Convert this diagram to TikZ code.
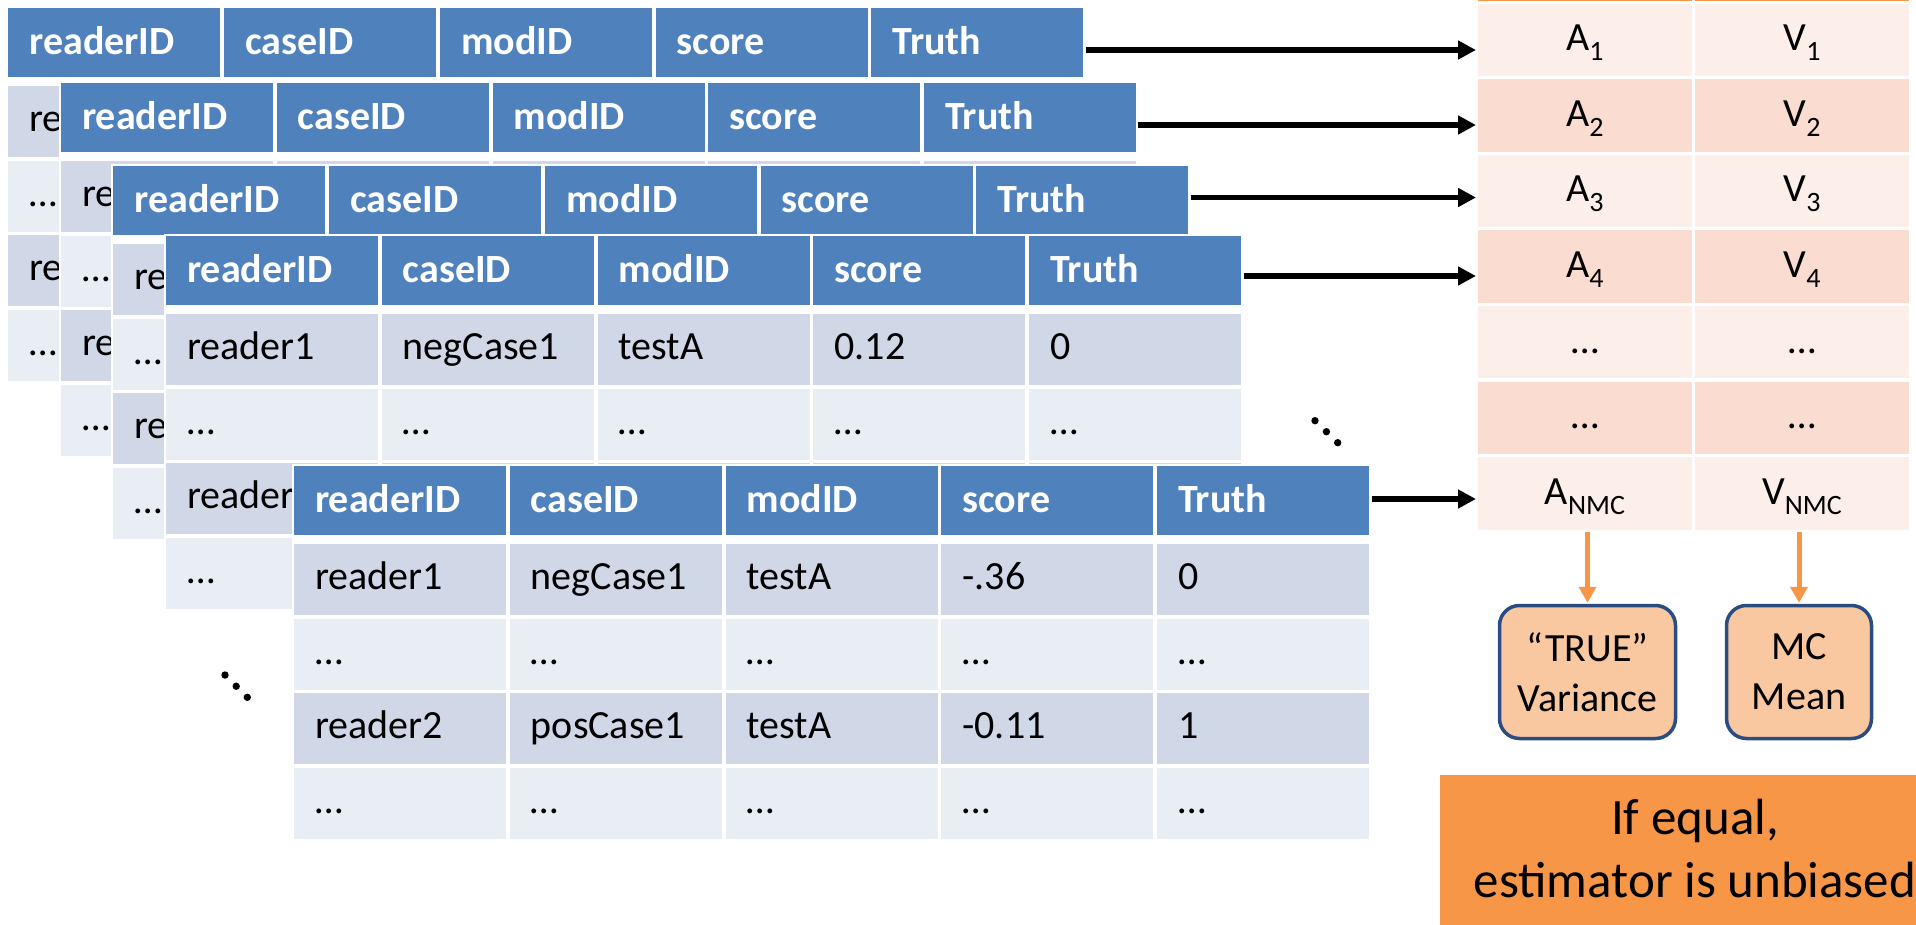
\documentclass[tikz,border=0pt]{standalone}
\usepackage{fontspec}
\setmainfont{Carlito}
\usetikzlibrary{arrows.meta}
\definecolor{hdrblue}{HTML}{4F81BD}
\definecolor{rowdark}{HTML}{D0D8E8}
\definecolor{rowlight}{HTML}{E9EDF4}
\definecolor{orng}{HTML}{F79646}
\definecolor{pklight}{HTML}{FCEEE9}
\definecolor{pkdark}{HTML}{FADCD0}
\definecolor{peach}{HTML}{FAC8A0}
\definecolor{boxblue}{HTML}{294D80}

\newcommand{\mytbl}[3]{% x0, y0, name
  \fill[white] (#1-2,#2-2) rectangle (#1+1077,#2+375.5);
  \foreach \hd [count=\i from 0] in {readerID,caseID,modID,score,Truth}{
    \node[cellbox, fill=hdrblue, minimum height=69] (#3h\i) at (#1+\i*215.75, #2) {};
    \node[hdrtxt] (#3ht\i) at (#1+\i*215.75+21, #2+46.5) {\hd};
  }
  \foreach \r in {0,1,2,3}{
    \ifodd\r\def\rc{rowlight}\else\def\rc{rowdark}\fi
    \foreach \i in {0,1,2,3,4}{
      \node[cellbox, fill=\rc] (#3r\r c\i) at (#1+\i*215.75, #2+78+\r*74.5) {};
    }
  }
}
\newcommand{\dtxt}[6]{\node[datatxt] (#1) at (#2+#4*215.75+21, #3+123.5+#5*74.5) {#6};}
\newcommand{\sub}[1]{\lower10pt\hbox{\fontsize{28}{28}\selectfont #1}}

\begin{document}
\begin{tikzpicture}[x=1pt,y=-1pt,
  cellbox/.style={anchor=north west, inner sep=0pt, outer sep=0pt, minimum width=212, minimum height=71},
  hdrtxt/.style={anchor=base west, inner sep=0pt, text=white, font=\fontsize{40}{48}\selectfont\bfseries},
  datatxt/.style={anchor=base west, inner sep=0pt, font=\fontsize{40}{48}\selectfont},
  rcell/.style={anchor=north west, inner sep=0pt, outer sep=0pt, minimum width=214, minimum height=72.5},
  rtxt/.style={anchor=base, inner sep=0pt, font=\fontsize{40}{48}\selectfont},
  blkarrow/.style={line width=5.5pt, draw=black, -{Triangle[length=18pt,width=18pt]}},
  oarrow/.style={line width=5pt, draw=orng, -{Triangle[length=16pt,width=17pt]}},
  rbox/.style={draw=boxblue, line width=3.5pt, fill=peach, rounded corners=20pt, inner sep=0pt,
    minimum height=133, align=center, font=\fontsize{40}{50}\selectfont},
  concltxt/.style={align=center, inner sep=0pt, font=\fontsize{51}{63}\selectfont}
]
\useasboundingbox (0,0) rectangle (1916,924);
\clip (0,0) rectangle (1916,924);

% ---- stacked tables ----
\mytbl{8.3}{8.3}{T1}
\dtxt{T1a}{8.3}{8.3}{0}{0}{re}
\dtxt{T1b}{8.3}{8.3}{0}{1}{…}
\dtxt{T1c}{8.3}{8.3}{0}{2}{re}
\dtxt{T1d}{8.3}{8.3}{0}{3}{…}

\mytbl{61}{83.3}{T2}
\dtxt{T2a}{61}{83.3}{0}{0}{re}
\dtxt{T2b}{61}{83.3}{0}{1}{…}
\dtxt{T2c}{61}{83.3}{0}{2}{re}
\dtxt{T2d}{61}{83.3}{0}{3}{…}

\mytbl{113.3}{166}{T3}
\dtxt{T3a}{113.3}{166}{0}{0}{re}
\dtxt{T3b}{113.3}{166}{0}{1}{…}
\dtxt{T3c}{113.3}{166}{0}{2}{re}
\dtxt{T3d}{113.3}{166}{0}{3}{…}

\mytbl{166}{236}{T4}
\dtxt{T4a0}{166}{236}{0}{0}{reader1}
\dtxt{T4a1}{166}{236}{1}{0}{negCase1}
\dtxt{T4a2}{166}{236}{2}{0}{testA}
\dtxt{T4a3}{166}{236}{3}{0}{0.12}
\dtxt{T4a4}{166}{236}{4}{0}{0}
\dtxt{T4b0}{166}{236}{0}{1}{…}
\dtxt{T4b1}{166}{236}{1}{1}{…}
\dtxt{T4b2}{166}{236}{2}{1}{…}
\dtxt{T4b3}{166}{236}{3}{1}{…}
\dtxt{T4b4}{166}{236}{4}{1}{…}
\dtxt{T4c0}{166}{236}{0}{2}{reader}
\dtxt{T4d0}{166}{236}{0}{3}{…}

\mytbl{294}{466}{T5}
\dtxt{T5a0}{294}{466}{0}{0}{reader1}
\dtxt{T5a1}{294}{466}{1}{0}{negCase1}
\dtxt{T5a2}{294}{466}{2}{0}{testA}
\dtxt{T5a3}{294}{466}{3}{0}{-.36}
\dtxt{T5a4}{294}{466}{4}{0}{0}
\dtxt{T5b0}{294}{466}{0}{1}{…}
\dtxt{T5b1}{294}{466}{1}{1}{…}
\dtxt{T5b2}{294}{466}{2}{1}{…}
\dtxt{T5b3}{294}{466}{3}{1}{…}
\dtxt{T5b4}{294}{466}{4}{1}{…}
\dtxt{T5c0}{294}{466}{0}{2}{reader2}
\dtxt{T5c1}{294}{466}{1}{2}{posCase1}
\dtxt{T5c2}{294}{466}{2}{2}{testA}
\dtxt{T5c3}{294}{466}{3}{2}{-0.11}
\dtxt{T5c4}{294}{466}{4}{2}{1}
\dtxt{T5d0}{294}{466}{0}{3}{…}
\dtxt{T5d1}{294}{466}{1}{3}{…}
\dtxt{T5d2}{294}{466}{2}{3}{…}
\dtxt{T5d3}{294}{466}{3}{3}{…}
\dtxt{T5d4}{294}{466}{4}{3}{…}

% diagonal dots
\fill (225,675) circle (3.7) (236.2,686.2) circle (3.7) (247.3,697.3) circle (3.7);
\fill (1315,420.7) circle (3.7) (1326.4,431.7) circle (3.7) (1337.7,442.7) circle (3.7);

% ---- right table ----
\fill[orng] (1478,-72) rectangle (1692,1);
\fill[orng] (1695,-72) rectangle (1909,1);
\foreach \k in {0,...,6}{
  \ifodd\k\def\rc{pkdark}\else\def\rc{pklight}\fi
  \node[rcell, fill=\rc] (R\k a) at (1478, 3.5+\k*75.6) {};
  \node[rcell, fill=\rc] (R\k v) at (1695, 3.5+\k*75.6) {};
}
\node[rtxt] (ta1) at (1585, 3.5+0*75.6+47.25) {A\sub{1}};
\node[rtxt] (tv1) at (1802, 3.5+0*75.6+47.25) {V\sub{1}};
\node[rtxt] (ta2) at (1585, 3.5+1*75.6+47.25) {A\sub{2}};
\node[rtxt] (tv2) at (1802, 3.5+1*75.6+47.25) {V\sub{2}};
\node[rtxt] (ta3) at (1585, 3.5+2*75.6+47.25) {A\sub{3}};
\node[rtxt] (tv3) at (1802, 3.5+2*75.6+47.25) {V\sub{3}};
\node[rtxt] (ta4) at (1585, 3.5+3*75.6+47.25) {A\sub{4}};
\node[rtxt] (tv4) at (1802, 3.5+3*75.6+47.25) {V\sub{4}};
\node[rtxt] (ta5) at (1585, 3.5+4*75.6+47.25) {…};
\node[rtxt] (tv5) at (1802, 3.5+4*75.6+47.25) {…};
\node[rtxt] (ta6) at (1585, 3.5+5*75.6+47.25) {…};
\node[rtxt] (tv6) at (1802, 3.5+5*75.6+47.25) {…};
\node[rtxt] (ta7) at (1585, 3.5+6*75.6+47.25) {A\sub{NMC}};
\node[rtxt] (tv7) at (1802, 3.5+6*75.6+47.25) {V\sub{NMC}};

% ---- black arrows ----
\coordinate (s1) at (1085.5,50);
\coordinate (s2) at (1138,125);
\coordinate (s3) at (1190.5,197.5);
\coordinate (s4) at (1243.5,276);
\coordinate (s5) at (1371.5,499);
\draw[blkarrow, shorten >=2pt] (s1) -- (s1 -| R0a.west);
\draw[blkarrow, shorten >=2pt] (s2) -- (s2 -| R1a.west);
\draw[blkarrow, shorten >=2pt] (s3) -- (s3 -| R2a.west);
\draw[blkarrow, shorten >=2pt] (s4) -- (s4 -| R3a.west);
\draw[blkarrow, shorten >=2pt] (s5) -- (s5 -| R6a.west);

% ---- result boxes ----
\node[rbox, minimum width=176] (tvar) at (1587.5,672) {“TRUE”\\Variance};
\node[rbox, minimum width=145] (mcmean) at (1799,672) {MC\\Mean};
\draw[oarrow, shorten <=2.5pt, shorten >=1pt] (tvar.north |- R6a.south) -- (tvar.north);
\draw[oarrow, shorten <=2.5pt, shorten >=1pt] (mcmean.north |- R6v.south) -- (mcmean.north);

% ---- conclusion ----
\fill[orng] (1440,775) rectangle (1960,940);
\node[concltxt] (concl) at (1695,848.5) {If equal,\\estimator is unbiased};
\end{tikzpicture}
\end{document}
